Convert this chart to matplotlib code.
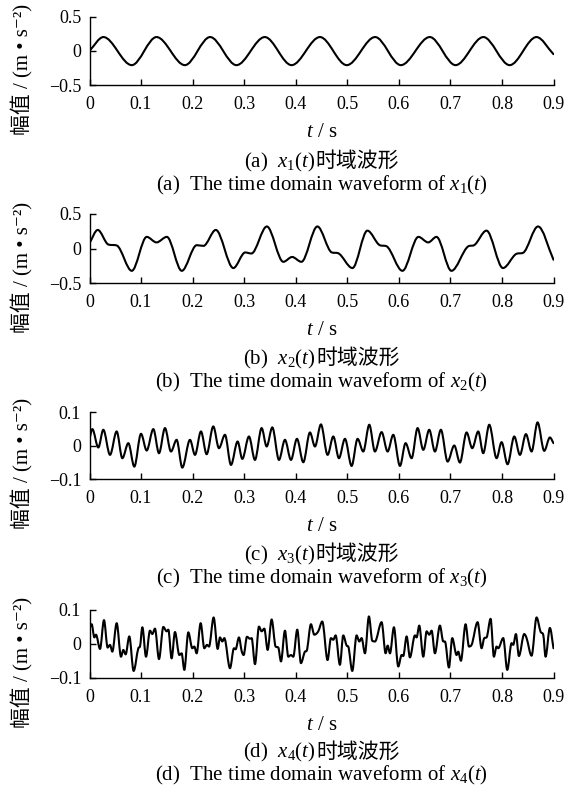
import numpy as np
import matplotlib
matplotlib.use('Agg')
import matplotlib.pyplot as plt
from matplotlib.path import Path
from matplotlib.patches import PathPatch

plt.rcParams['font.family'] = ['Liberation Serif', 'Noto Sans CJK SC', 'DejaVu Sans']
plt.rcParams['mathtext.fontset'] = 'custom'
plt.rcParams['mathtext.rm'] = 'Liberation Serif'
plt.rcParams['mathtext.it'] = 'Liberation Serif:italic'
plt.rcParams['font.size'] = 12

# values (peaks, troughs and shoulders of each trace)
x1_t = [0, 0.027, 0.082, 0.130, 0.185, 0.234, 0.285, 0.340, 0.392, 0.447, 0.499,
        0.554, 0.604, 0.660, 0.710, 0.764, 0.815, 0.867, 0.9]
x1_v = [0, 0.2, -0.21, 0.2, -0.21, 0.2, -0.21, 0.2, -0.21, 0.2, -0.21,
        0.2, -0.21, 0.2, -0.21, 0.2, -0.21, 0.2, -0.05]

x2_t = [0, 0.016, 0.0365, 0.053, 0.082, 0.111, 0.130, 0.150, 0.179, 0.208, 0.221,
        0.245, 0.279, 0.302, 0.314, 0.344, 0.376, 0.393, 0.411, 0.442, 0.470,
        0.482, 0.510, 0.539, 0.563, 0.576, 0.607, 0.638, 0.657, 0.673, 0.702,
        0.735, 0.746, 0.770, 0.802, 0.828, 0.841, 0.870, 0.9]
x2_v = [0.08, 0.27, 0.06, 0.045, -0.32, 0.17, 0.09, 0.17, -0.32, 0.05, 0.04,
        0.27, -0.28, -0.055, -0.07, 0.32, -0.19, -0.12, -0.19, 0.32, -0.055,
        -0.065, -0.28, 0.26, 0.05, 0.035, -0.32, 0.17, 0.09, 0.17, -0.32,
        0.035, 0.05, 0.26, -0.28, -0.075, -0.06, 0.32, -0.16]

x3_t = [0, 0.0055, 0.0171, 0.0268, 0.0398, 0.0527, 0.0637, 0.0753, 0.0869, 0.0999,
        0.1109, 0.1238, 0.1348, 0.1464, 0.1580, 0.1690, 0.1800, 0.1949, 0.2046,
        0.2162, 0.2272, 0.2401, 0.2511, 0.2628, 0.2744, 0.2873, 0.2964, 0.3093,
        0.3209, 0.3339, 0.3436, 0.3546, 0.3675, 0.3791, 0.3908, 0.4024, 0.4147,
        0.4276, 0.4373, 0.4489, 0.4618, 0.4729, 0.4838, 0.4955, 0.5084, 0.5200,
        0.5310, 0.5427, 0.5536, 0.5666, 0.5782, 0.5892, 0.6022, 0.6131, 0.6248,
        0.6364, 0.6474, 0.6590, 0.6700, 0.6816, 0.6946, 0.7075, 0.7185, 0.7314,
        0.7424, 0.7540, 0.7637, 0.7754, 0.7896, 0.7993, 0.8109, 0.8239, 0.8349,
        0.8465, 0.8575, 0.8691, 0.8820, 0.8930, 0.9]
x3_v = [0.02, 0.049, -0.006, 0.047, -0.028, 0.042, -0.038, 0.007, -0.063, 0.035,
        -0.015, 0.049, -0.023, 0.052, -0.018, 0.017, -0.066, 0.017, -0.028,
        0.042, -0.026, 0.057, -0.008, 0.032, -0.058, 0.012, -0.040, 0.027,
        -0.043, 0.052, -0.003, 0.054, -0.043, 0.017, -0.043, 0.020, -0.050,
        0.039, -0.003, 0.063, -0.028, 0.027, -0.038, 0.020, -0.061, 0.020,
        -0.018, 0.062, -0.018, 0.040, -0.018, 0.032, -0.061, 0.007, -0.038,
        0.052, -0.013, 0.047, -0.018, 0.047, -0.048, 0.000, -0.051, 0.039,
        -0.008, 0.042, -0.023, 0.062, -0.038, 0.010, -0.056, 0.027, -0.028,
        0.034, -0.018, 0.069, -0.016, 0.024, 0.007]

x4_t = [0, 0.0042, 0.0094, 0.0126, 0.0204, 0.0281, 0.0352, 0.0398, 0.0443, 0.0527,
        0.0611, 0.0656, 0.0701, 0.0772, 0.0856, 0.0947, 0.0979, 0.1025, 0.1096,
        0.1173, 0.1218, 0.1270, 0.1348, 0.1432, 0.1496, 0.1529, 0.1593, 0.1658,
        0.1742, 0.1787, 0.1839, 0.1917, 0.1994, 0.2033, 0.2078, 0.2156, 0.2227,
        0.2279, 0.2318, 0.2408, 0.2486, 0.2531, 0.2576, 0.2615, 0.2725, 0.2802,
        0.2834, 0.2899, 0.2951, 0.2990, 0.3054, 0.3113, 0.3145, 0.3210, 0.3287,
        0.3339, 0.3391, 0.3455, 0.3533, 0.3610, 0.3662, 0.3714, 0.3791, 0.3856,
        0.3908, 0.3953, 0.4030, 0.4101, 0.4179, 0.4211, 0.4295, 0.4360, 0.4437,
        0.4515, 0.4618, 0.4683, 0.4728, 0.4774, 0.4857, 0.4922, 0.4987, 0.5019,
        0.5097, 0.5181, 0.5233, 0.5278, 0.5343, 0.5420, 0.5485, 0.5537, 0.5666,
        0.5744, 0.5783, 0.5828, 0.5905, 0.5989, 0.6054, 0.6086, 0.6151, 0.6215,
        0.6312, 0.6345, 0.6396, 0.6474, 0.6539, 0.6590, 0.6636, 0.6700, 0.6797,
        0.6862, 0.6894, 0.6972, 0.7036, 0.7120, 0.7153, 0.7204, 0.7295, 0.7360,
        0.7411, 0.7528, 0.7605, 0.7657, 0.7702, 0.7780, 0.7844, 0.7896, 0.7928,
        0.8025, 0.8103, 0.8187, 0.8219, 0.8271, 0.8329, 0.8432, 0.8478, 0.8575,
        0.8672, 0.8749, 0.8801, 0.8846, 0.8930, 0.9]
x4_v = [0.047, 0.058, 0.019, 0.027, -0.015, 0.070, -0.011, -0.003, -0.023, 0.061,
        -0.038, -0.018, -0.031, 0.022, -0.080, -0.013, -0.008, 0.049, -0.038,
        0.039, 0.029, 0.045, -0.045, 0.050, 0.037, 0.042, -0.043, 0.035,
        -0.033, -0.028, -0.077, 0.034, -0.013, -0.008, -0.028, 0.061, -0.013,
        -0.003, -0.008, 0.078, -0.015, 0.019, 0.007, 0.017, -0.072, -0.013,
        -0.016, 0.019, -0.021, -0.033, 0.021, 0.015, 0.017, -0.060, 0.051,
        0.037, 0.045, -0.018, 0.072, -0.008, -0.011, -0.052, 0.039, -0.038,
        -0.033, -0.038, 0.042, -0.057, -0.023, -0.021, 0.058, 0.027, 0.037,
        0.066, -0.048, 0.017, 0.012, 0.025, -0.062, 0.025, -0.005, -0.008,
        -0.080, 0.025, 0.007, 0.017, -0.028, 0.081, 0.009, 0.007, 0.064,
        -0.028, -0.005, -0.028, 0.049, -0.067, -0.033, -0.036, 0.022, -0.040,
        0.025, 0.019, 0.054, -0.038, 0.037, 0.027, 0.039, -0.028, 0.054,
        0.007, 0.007, -0.070, 0.017, -0.033, -0.023, -0.050, 0.058, -0.008,
        -0.003, 0.064, -0.013, 0.017, 0.019, 0.074, -0.038, -0.008, -0.013,
        0.017, -0.077, 0.002, -0.003, 0.029, -0.036, 0.029, 0.017, -0.035,
        0.078, 0.036, 0.027, -0.038, 0.047, -0.013]

x_ticks = [0, 0.1, 0.2, 0.3, 0.4, 0.5, 0.6, 0.7, 0.8, 0.9]
x_ticklabels = ['0', '0.1', '0.2', '0.3', '0.4', '0.5', '0.6', '0.7', '0.8', '0.9']
y_ticks_big = [-0.5, 0, 0.5]
y_ticklabels_big = ['\u22120.5', '0', '0.5']
y_ticks_small = [-0.1, 0, 0.1]
y_ticklabels_small = ['\u22120.1', '0', '0.1']

cap_tags = ['(a)', '(b)', '(c)', '(d)']
cap_vars = [r'$x_1(t)$', r'$x_2(t)$', r'$x_3(t)$', r'$x_4(t)$']
cap_cn = '时域波形'
cap_en = 'The time domain waveform of'
ylabel = '幅值 / (m • s\u207b\u00b2)'


def smooth_curve(ax, t, v):
    # cubic Hermite path through the read points, flat at peaks/troughs
    t = np.asarray(t, float)
    v = np.asarray(v, float)
    n = len(t)
    d = np.diff(v) / np.diff(t)
    m = np.zeros(n)
    m[0] = d[0]
    m[-1] = d[-1]
    for i in range(1, n - 1):
        if d[i - 1] * d[i] > 0:
            s = (v[i + 1] - v[i - 1]) / (t[i + 1] - t[i - 1])
            lim = 3 * min(abs(d[i - 1]), abs(d[i]))
            m[i] = np.sign(s) * min(abs(s), lim)
    verts = [(t[0], v[0])]
    codes = [Path.MOVETO]
    for i in range(n - 1):
        h = t[i + 1] - t[i]
        verts += [(t[i] + h / 3, v[i] + m[i] * h / 3),
                  (t[i + 1] - h / 3, v[i + 1] - m[i + 1] * h / 3),
                  (t[i + 1], v[i + 1])]
        codes += [Path.CURVE4] * 3
    ax.add_patch(PathPatch(Path(verts, codes), fill=False, ec='black',
                           lw=1.5, capstyle='round', joinstyle='round'))


W, H = 580, 793
fig = plt.figure(figsize=(W / 100, H / 100), dpi=100)
renderer = fig.canvas.get_renderer()


def centered_line(parts, xc_px, ybase_px, size):
    # several text pieces on one baseline, centred as a group
    texts = []
    for s, kw in parts:
        texts.append(fig.text(0, 1 - ybase_px / H, s, fontsize=size,
                              ha='left', va='baseline', **kw))
    widths = [tx.get_window_extent(renderer).width for tx in texts]
    x = xc_px - sum(widths) / 2
    for tx, w in zip(texts, widths):
        tx.set_x(x / W)
        x += w


panels = [(16.5, 85.0), (214.0, 283.3), (412.0, 479.0), (610.0, 677.7)]
series = [(x1_t, x1_v), (x2_t, x2_v), (x3_t, x3_v), (x4_t, x4_v)]
cap_gap = [(76, 99), (75, 98), (75, 98), (74, 97)]

for k, ((top, bot), (t, v)) in enumerate(zip(panels, series)):
    ax = fig.add_axes([89.5 / W, 1 - bot / H, 464 / W, (bot - top) / H])
    smooth_curve(ax, t, v)
    ax.set_xlim(0, 0.9)
    if k < 2:
        ax.set_ylim(-0.5, 0.5)
        ax.set_yticks(y_ticks_big)
        ax.set_yticklabels(y_ticklabels_big)
    else:
        ax.set_ylim(-0.1, 0.1)
        ax.set_yticks(y_ticks_small)
        ax.set_yticklabels(y_ticklabels_small)
    ax.set_xticks(x_ticks)
    ax.set_xticklabels(x_ticklabels)
    for side in ['top', 'right']:
        ax.spines[side].set_visible(False)
    for side in ['left', 'bottom']:
        ax.spines[side].set_linewidth(1.0)
    ax.tick_params(direction='in', length=4.5, width=1.0, labelsize=13)
    ax.tick_params(axis='x', pad=8)
    ax.tick_params(axis='y', pad=6)
    ax.text(-0.145, 0.23, ylabel, transform=ax.transAxes, rotation=90,
            ha='center', va='center', fontsize=15)

    xc = 321.5
    centered_line([(r'$t$ / s', {})], xc, bot + 52, 15)
    centered_line([(cap_tags[k] + '  ' + cap_vars[k], {}),
                   (cap_cn, {'family': ['Noto Sans CJK SC']})],
                  xc, bot + cap_gap[k][0] + 6, 15)
    centered_line([(cap_tags[k] + '  ' + cap_en + ' ' + cap_vars[k], {})],
                  xc, bot + cap_gap[k][1] + 6, 15)

fig.savefig('out.png', dpi=100)
